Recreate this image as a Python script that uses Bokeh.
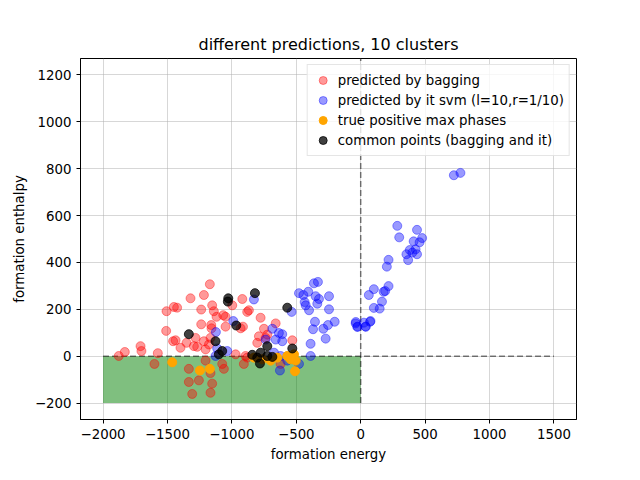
from bokeh.plotting import figure
from bokeh.models import Range1d, FixedTicker, Legend, LegendItem
from bokeh.embed import file_html
from bokeh.resources import INLINE

## ----- DATA ----- ##
bag_x = [-1878, -1831, -1709, -1702, -1601, -1575, -1510, -1507, -1450, -1425, -1456, -1437,
         -1399, -1352, -1321, -1217, -1171, -1238, -1153, -1140, -1119, -1238, -1160, -1158,
         -1282, -1295, -1269, -1217, -1204, -1178, -1166, -1067, -1049, -1049, -997, -919,
         -914, -932, -881, -868, -777, -751, -660, -803, -790, -738, -725, -531, -971, -894,
         -1334, -1256, -1334, -1308, -1166, -1153, -1204, -1166, -1062, -1075, -907, -881, -622]
bag_y = [1, 18, 43, 22, -33, 13, 108, 192, 210, 207, 64, 68,
         36, 57, 247, 261, 307, 199, 217, 192, 168, 136, 133, 119,
         78, 43, 40, 64, 29, 50, 78, 175, 168, 126, 217, 244,
         126, 119, 189, 196, 164, 117, 140, 57, 85, 78, 92, 68, 8, 1,
         -54, -103, -110, -161, -156, -117, -19, -72, -54, -33, -33, -6, -33]

svm_x = [-479, -445, -407, -363, -332, -350, -324, -246, -435, -427, -401, -337, -246, -355,
         -370, -290, -254, -202, -272, -389, -389, -39, -26, 39, 73,
         -829, -989, -1124, -1114, -1127, -1036, -686, -635, -609, -660, -609, -738, -673,
         -622, -627, -570, -518, -479, -536,
         723, 774, 284, 299, 437, 477, 411, 457, 381, 426, 355, 401, 437, 368, 216, 203,
         216, 190, 178, 102, 63, 165, 102, 147, 76, -38, -25, 38, 25]
svm_y = [269, 261, 275, 311, 317, 256, 244, 256, 231, 217, 196, 224, 200, 147,
         115, 117, 133, 147, 75, 53, 1, 140, 125, 126, 147,
         242, 150, 103, 33, 1, 22, 117, 99, 94, 71, 64, 71, 15,
         1, -61, -19, -13, -33, 189,
         772, 782, 556, 507, 539, 504, 490, 486, 453, 456, 435, 442, 435, 410, 411, 382,
         299, 278, 275, 286, 261, 233, 206, 203, 150, 146, 126, 126, 143]

true_x = [-1463, -1248, -1171, -829, -764, -699, -648, -570, -518, -505, -510, -544]
true_y = [-26, -61, -54, -6, -13, -19, -6, 1, 8, -19, -64, -13]

common_x = [-1028, -1031, -821, -570, -1334, -966, -1127, -1101, -1075, -842, -777, -725,
            -725, -782, -531, -686, -803]
common_y = [247, 233, 269, 207, 94, 131, 64, 8, 22, 6, 15, 43, 1, -31, 33, -3, -6]

x_ticks = [-2000, -1500, -1000, -500, 0, 500, 1000, 1500]
y_ticks = [-200, 0, 200, 400, 600, 800, 1000, 1200]

FONT = "DejaVu Sans"

p = figure(width=624, height=464, output_backend="svg", toolbar_location=None,
           x_range=Range1d(-2175, 1675), y_range=Range1d(-270, 1270),
           title="different predictions, 10 clusters",
           min_border_left=80, min_border_right=48, min_border_top=58, min_border_bottom=37)
p.title.align = "center"
p.title.text_font = FONT
p.title.text_font_size = "12pt"
p.title.text_font_style = "normal"
p.title.text_color = "black"

p.xaxis.ticker = FixedTicker(ticks=x_ticks)
p.yaxis.ticker = FixedTicker(ticks=y_ticks)
p.xaxis.axis_label = "formation energy"
p.yaxis.axis_label = "formation enthalpy"
for ax in (p.xaxis[0], p.yaxis[0]):
    ax.axis_label_text_font = FONT
    ax.axis_label_text_font_size = "10pt"
    ax.axis_label_text_font_style = "normal"
    ax.axis_label_text_color = "black"
    ax.major_label_text_font = FONT
    ax.major_label_text_font_size = "10pt"
    ax.major_label_text_color = "black"
    ax.minor_tick_line_color = None
    ax.major_tick_out = 4
    ax.major_tick_in = 0
    ax.axis_line_color = "black"
p.grid.grid_line_color = "#b0b0b0"
p.grid.grid_line_alpha = 0.5
p.outline_line_color = "black"

# region of positive max phases
p.quad(left=-2000, right=0, bottom=-200, top=0, fill_color="green", fill_alpha=0.5, line_color=None)
p.line([-2000, 1500], [0, 0], line_color="black", line_alpha=0.5, line_width=1.5, line_dash="6 3")
p.line([0, 0], [-200, 1300], line_color="black", line_alpha=0.5, line_width=1.5, line_dash="6 3")

r1 = p.scatter(bag_x, bag_y, size=9, fill_color="red", line_color="red", fill_alpha=0.4, line_alpha=0.4)
r2 = p.scatter(svm_x, svm_y, size=9, fill_color="blue", line_color="blue", fill_alpha=0.4, line_alpha=0.4)
r3 = p.scatter(true_x, true_y, size=9, fill_color="orange", line_color="orange")
r4 = p.scatter(common_x, common_y, size=9, fill_color="black", line_color="black", fill_alpha=0.75, line_alpha=0.75)

legend = Legend(items=[
    LegendItem(label="predicted by bagging", renderers=[r1]),
    LegendItem(label="predicted by it svm (l=10,r=1/10)", renderers=[r2]),
    LegendItem(label="true positive max phases", renderers=[r3]),
    LegendItem(label="common points (bagging and it)", renderers=[r4]),
], location="top_right")
legend.label_text_font = FONT
legend.label_text_font_size = "10pt"
legend.label_text_color = "black"
legend.spacing = 0
legend.padding = 5
legend.margin = 6
legend.glyph_height = 20
legend.label_height = 20
legend.border_line_color = "#cccccc"
legend.background_fill_alpha = 0.8
p.add_layout(legend)

open("out.html", "w").write(file_html(p, INLINE))
